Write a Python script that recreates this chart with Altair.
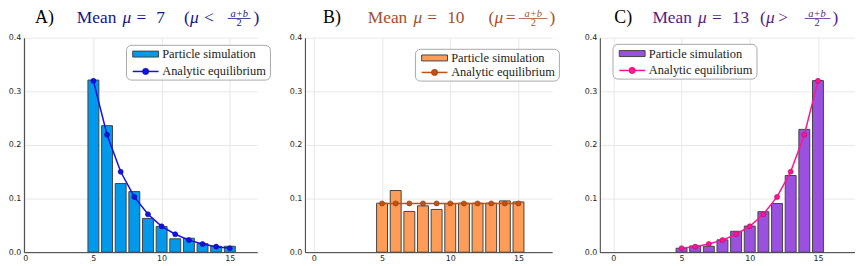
import altair as alt
import pandas as pd

# ---------------- data ----------------
K = [5, 6, 7, 8, 9, 10, 11, 12, 13, 14, 15]

SIM_A = [0.321, 0.236, 0.128, 0.113, 0.063, 0.048, 0.025, 0.026, 0.016, 0.011, 0.011]
EQ_A = [0.3195, 0.219, 0.150, 0.103, 0.0706, 0.0481, 0.0335, 0.0225, 0.0152, 0.0103, 0.0073]

SIM_B = [0.0913, 0.115, 0.076, 0.0864, 0.0797, 0.0907, 0.0913, 0.0913, 0.0913, 0.0956, 0.0937]
EQ_B = [0.0909, 0.0909, 0.0909, 0.0909, 0.0909, 0.0909, 0.0909, 0.0909, 0.0909, 0.0909, 0.0909]

SIM_C = [0.0073, 0.0116, 0.011, 0.023, 0.039, 0.0487, 0.0755, 0.0907, 0.143, 0.229, 0.320]
EQ_C = [0.0073, 0.0103, 0.0152, 0.0225, 0.0335, 0.0481, 0.0706, 0.103, 0.150, 0.219, 0.3195]

XTICKS = [0, 5, 10, 15]
YTICKS = [0.0, 0.1, 0.2, 0.3, 0.4]
LEGEND_LABELS = ["Particle simulation", "Analytic equilibrium"]

PANEL_LABELS = ["A)", "B)", "C)"]
MEAN_VALUES = ["7", "10", "13"]
RELATIONS = ["<", "=", ">"]

# ---------------- style ----------------
SERIF = "Liberation Serif, DejaVu Serif, serif"
SANS = "DejaVu Sans, sans-serif"
PLOT_TOP = 37.3
PLOT_H = 216
SPACING = 48


def one(v=0):
    return alt.Chart(pd.DataFrame({"t": [v]}))


def piece(s, px, py, left, size, color, style="normal", align="left"):
    return one(s).mark_text(
        font=SERIF, fontSize=size, color=color, fontStyle=style,
        align=align, baseline="alphabetic",
    ).encode(text="t:N", x=alt.value(px - left), y=alt.value(py - PLOT_TOP))


def hline(x1, x2, py, left, color, width):
    return one().mark_rule(color=color, strokeWidth=width).encode(
        x=alt.value(x1 - left), x2=alt.value(x2 - left), y=alt.value(py - PLOT_TOP)
    )


def panel(sim, eq, bar_c, line_c, pt_edge, title_c, left, width, xdom,
          label, mean, rel, tpos, leg):
    df = pd.DataFrame({"k": K, "sim": sim, "eq": eq})
    xs = alt.Scale(domain=xdom, nice=False, zero=False)
    ys = alt.Scale(domain=[0, 0.4], nice=False, zero=False)
    common = dict(grid=True, gridColor="#e8e8e8", gridWidth=1,
                  domainColor="#3a3a3a", domainWidth=1, ticks=False,
                  labelFont=SANS, labelFontSize=8, labelColor="#222222",
                  title=None)
    xaxis = alt.Axis(values=XTICKS, format="d", labelPadding=2, **common)
    yaxis = alt.Axis(values=YTICKS, format=".1f", labelPadding=3, **common)

    bars = alt.Chart(df).transform_calculate(
        k0="datum.k - 0.4", k1="datum.k + 0.4", base="0"
    ).mark_rect(fill=bar_c, stroke="#454545", strokeWidth=1).encode(
        x=alt.X("k0:Q", scale=xs, axis=xaxis), x2="k1:Q",
        y=alt.Y("sim:Q", scale=ys, axis=yaxis), y2="base:Q",
    )
    line = alt.Chart(df).mark_line(color=line_c, strokeWidth=1.5).encode(
        x=alt.X("k:Q", scale=xs, axis=xaxis), y=alt.Y("eq:Q", scale=ys, axis=yaxis)
    )
    pts = alt.Chart(df).mark_point(
        filled=True, size=26, color=line_c, stroke=pt_edge, strokeWidth=0.6, opacity=1
    ).encode(x=alt.X("k:Q", scale=xs, axis=xaxis), y=alt.Y("eq:Q", scale=ys, axis=yaxis))

    layers = [bars, line, pts]

    # ---- title (page coords) ----
    tb = 22.5
    (xl, xmean, xmu, xeq, xnum, xpo, xmu2, xrel, xfc, xf1, xf2, xpc) = tpos
    layers += [
        piece(label, xl, tb, left, 18, "#000000"),
        piece("Mean", xmean, tb, left, 17.5, title_c),
        piece("μ", xmu, tb, left, 17.5, title_c, style="italic"),
        piece("=", xeq, tb, left, 17.5, title_c),
        piece(mean, xnum, tb, left, 17.5, title_c),
        piece("(", xpo, tb, left, 17.5, title_c),
        piece("μ", xmu2, tb, left, 17.5, title_c, style="italic"),
        piece(rel, xrel, tb, left, 17.5, title_c),
        piece("a+b", xfc, 16.3, left, 10.5, title_c, style="italic", align="center"),
        hline(xf1, xf2, 18.0, left, title_c, 0.8),
        piece("2", xfc, 26.0, left, 10.5, title_c, align="center"),
        piece(")", xpc, tb, left, 17.5, title_c),
    ]

    # ---- legend (page coords) ----
    bx, by, bh, r1, r2 = leg
    bw = 145
    layers.append(one().mark_rect(
        fill="white", stroke="#a8a8a8", strokeWidth=1, cornerRadius=5
    ).encode(x=alt.value(bx - left), x2=alt.value(bx + bw - left),
             y=alt.value(by - PLOT_TOP), y2=alt.value(by + bh - PLOT_TOP)))
    layers.append(one().mark_rect(fill=bar_c, stroke="#454545", strokeWidth=1).encode(
        x=alt.value(bx + 6.3 - left), x2=alt.value(bx + 32.3 - left),
        y=alt.value(by + r1 - 3 - PLOT_TOP), y2=alt.value(by + r1 + 3 - PLOT_TOP)))
    layers.append(hline(bx + 6.3, bx + 32.3, by + r2, left, line_c, 1.5))
    layers.append(one().mark_point(
        filled=True, size=40, color=line_c, stroke=pt_edge, strokeWidth=0.6, opacity=1
    ).encode(x=alt.value(bx + 19.3 - left), y=alt.value(by + r2 - PLOT_TOP)))
    for lab, ry in zip(LEGEND_LABELS, [r1, r2]):
        layers.append(one(lab).mark_text(
            font=SERIF, fontSize=12.5, color="#222222", align="left", baseline="middle"
        ).encode(text="t:N", x=alt.value(bx + 36 - left), y=alt.value(by + ry - PLOT_TOP)))

    return alt.layer(*layers).properties(width=width, height=PLOT_H)


# panel geometry (page x of plot-area left edge) and x domains
LEFT_A, W_A = 23.7, 235
LEFT_B, W_B = LEFT_A + W_A + SPACING, 249
LEFT_C, W_C = LEFT_B + W_B + SPACING, 257
PX = 13.74  # px per unit


def dom(left, width, x0):
    return [(left - x0) / PX, (left + width - x0) / PX]


pA = panel(SIM_A, EQ_A, "#0099ec", "#1010f0", "#10107a", "#14148c",
           LEFT_A, W_A, dom(LEFT_A, W_A, 25.0),
           PANEL_LABELS[0], MEAN_VALUES[0], RELATIONS[0],
           (35, 77, 123, 137, 157, 185, 191, 205, 240.5, 229, 252, 255),
           (127, 45, 35, 8.8, 26.3))
pB = panel(SIM_B, EQ_B, "#ff9d58", "#c4520e", "#8a3a08", "#a0522d",
           LEFT_B, W_B, dom(LEFT_B, W_B, 315.7),
           PANEL_LABELS[1], MEAN_VALUES[1], RELATIONS[1],
           (325, 370, 416, 430, 450, 491.7, 497.7, 509, 536.7, 522, 551, 553),
           (418, 49, 32, 8.7, 23.3))
pC = panel(SIM_C, EQ_C, "#9b51e0", "#ff1493", "#b00c66", "#571c84",
           LEFT_C, W_C, dom(LEFT_C, W_C, 617.3),
           PANEL_LABELS[2], MEAN_VALUES[2], RELATIONS[2],
           (618.3, 656.7, 702.7, 716.7, 736.7, 765, 771, 783.3, 822.5, 810, 836, 838),
           (617, 44, 35, 9.3, 26.3))

chart = alt.hconcat(pA, pB, pC, spacing=SPACING, bounds="flush").properties(
    padding={"left": 0, "top": 0, "right": 0, "bottom": 0}
).configure_view(stroke=None)

chart.save("out.html", embed_options={"renderer": "svg", "actions": False})
